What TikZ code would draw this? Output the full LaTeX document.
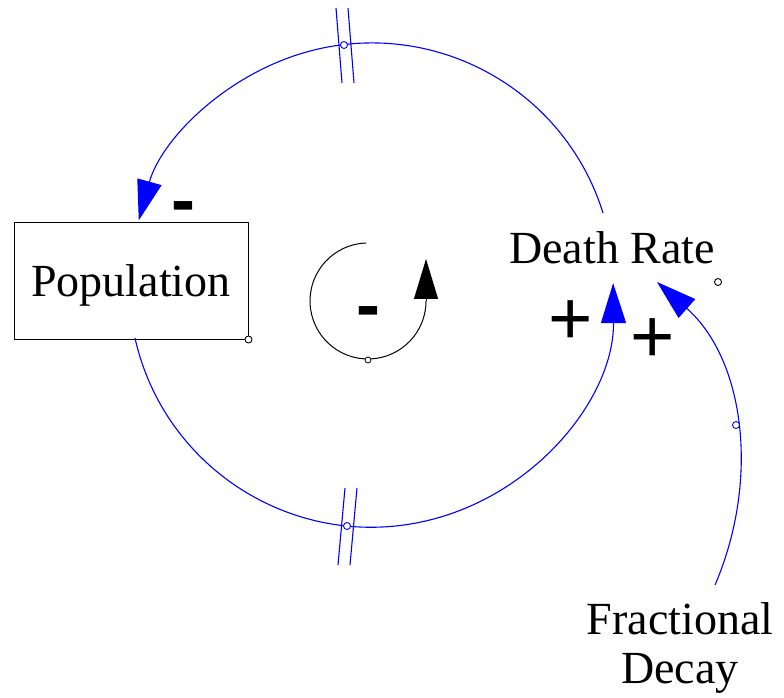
\documentclass[tikz,border=0pt]{standalone}
\usepackage{fontspec}
\setmainfont{Liberation Serif}
\newfontfamily\polfont{Liberation Sans}
\usetikzlibrary{arrows.meta}
\definecolor{linkblue}{RGB}{0,0,255}
\tikzset{
  lbl/.style={inner sep=0pt, font=\fontsize{46}{54}\selectfont},
  pol/.style={inner sep=0pt, font=\polfont\bfseries\fontsize{72}{80}\selectfont},
  polplus/.style={inner sep=0pt, font=\polfont\fontsize{76}{80}\selectfont},
  link/.style={draw=linkblue, line width=1.1pt},
  bluetip/.style={-{Triangle[length=40pt,width=25pt]}, linkblue},
  blacktip/.style={-{Triangle[length=40pt,width=24pt]}, black},
  hashline/.style={draw=linkblue, line width=1.1pt},
  dot/.style={circle, draw, fill=white, inner sep=0pt, minimum size=7pt, line width=0.9pt},
}
\begin{document}
\begin{tikzpicture}[x=1pt,y=-1pt]
\useasboundingbox (0,0) rectangle (784,697);
% Population stock
\node[draw, line width=1pt, minimum width=234pt, minimum height=117pt, inner sep=0pt] (pop) at (131,280.5) {};
\node[lbl, anchor=base] (poptxt) at (131,296) {Population};
\node[dot] (popdot) at (pop.south east) {};
% Death Rate
\node[lbl, anchor=base] (dr) at (612,263) {Death Rate};
\node[dot] (drdot) at (718,282) {};
% Fractional Decay
\node[lbl, anchor=base] (fd1) at (680,634) {Fractional};
\node[lbl, anchor=base] (fd2) at (680,683) {Decay};
% centre of big loop
\coordinate (c) at (372,285);
% top link: Death Rate -> Population
\coordinate (tstart) at (603,213);
\draw[link, bluetip] (tstart) arc[start angle=-17.3, end angle=-164.5, radius=242];
% bottom link: Population -> Death Rate
\coordinate (bstart) at (135,338);
\draw[link, bluetip] (bstart) arc[start angle=167.4, end angle=-0.5, radius=242];
% delay marks
\node[dot, draw=linkblue] (tdot) at (344,45) {};
\coordinate (h1a) at (336,8); \coordinate (h1b) at (342,83);
\coordinate (h2a) at (348,8); \coordinate (h2b) at (354,83);
\draw[hashline] (h1a) -- (h1b);
\draw[hashline] (h2a) -- (h2b);
\node[dot, draw=linkblue] (bdot) at (347,526) {};
\coordinate (h3a) at (345,488); \coordinate (h3b) at (338,565);
\coordinate (h4a) at (357,488); \coordinate (h4b) at (350,565);
\draw[hashline] (h3a) -- (h3b);
\draw[hashline] (h4a) -- (h4b);
% Fractional Decay -> Death Rate
\coordinate (fstart) at (715,585);
\coordinate (fend) at (657,282);
\draw[link, bluetip] (fstart) .. controls (760,480) and (745,360) .. (fend);
\node[dot, draw=linkblue] (fdot) at (736,425) {};
% polarities
\node[pol] (m1) at (183,213) {-};
\node[polplus] (p1) at (571,323) {+};
\node[polplus] (p2) at (653,341) {+};
% loop symbol
\coordinate (lstart) at (366,243);
\draw[line width=1pt] (lstart) arc[start angle=-92, end angle=-360, radius=58] coordinate (lend);
\draw[line width=1pt, blacktip] (lend) -- ++(0,-42) coordinate (ltip);
\node[dot, line width=0.8pt, minimum size=6pt] (ldot) at (368,360) {};
\node[pol] (lm) at (368,318) {-};
\end{tikzpicture}
\end{document}
